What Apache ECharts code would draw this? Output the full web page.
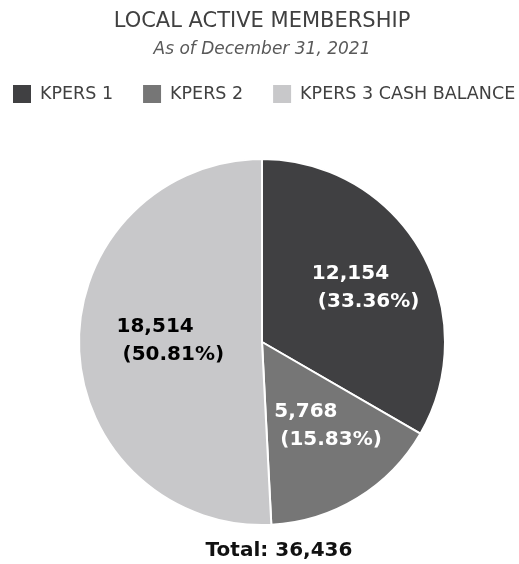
<!DOCTYPE html>
<html>
<head>
<meta charset="utf-8">
<script src="https://cdn.jsdelivr.net/npm/echarts@6/dist/echarts.min.js"></script>
<style>html,body{margin:0;padding:0;background:#fff;}#c{width:519px;height:564px;}</style>
</head>
<body>
<div id="c"></div>
<script>
const categories = ['KPERS 1', 'KPERS 2', 'KPERS 3 CASH BALANCE'];
const values = [12154, 5768, 18514];
const percents = ['33.36%', '15.83%', '50.81%'];
const colors = ['#404042', '#767676', '#c8c8ca'];
const labelColors = ['#ffffff', '#ffffff', '#000000'];
const labelShift = [[28, -7], [23, 3], [9, -4]];
const total = values.reduce((a, b) => a + b, 0);

const font = "'DejaVu Sans'";
const chart = echarts.init(document.getElementById('c'));
chart.setOption({
  animation: false,
  title: [
    { text: 'LOCAL ACTIVE MEMBERSHIP', left: 262, textAlign: 'center', top: 11, padding: 0,
      textStyle: { fontFamily: font, fontSize: 21, fontWeight: 'normal', color: '#404040' } },
    { text: 'As of December 31, 2021', left: 262, textAlign: 'center', top: 41, padding: 0,
      textStyle: { fontFamily: font, fontSize: 17, fontStyle: 'italic', fontWeight: 'normal', color: '#595959' } },
    { text: 'Total: ' + total.toLocaleString('en-US'), left: 279, textAlign: 'center', top: 541, padding: 0,
      textStyle: { fontFamily: font, fontSize: 20, fontWeight: 'bold', color: '#111111' } }
  ],
  legend: {
    data: categories,
    left: 13, top: 85, right: 0,
    padding: 0,
    itemWidth: 18, itemHeight: 18, itemGap: 30,
    icon: 'rect',
    itemStyle: { borderWidth: 0 },
    textStyle: { fontFamily: font, fontSize: 17.5, color: '#404040', padding: [0, 0, 0, 4] }
  },
  series: [{
    type: 'pie',
    center: [262, 342],
    radius: 183,
    startAngle: 90,
    clockwise: true,
    data: categories.map((c, i) => ({
      name: c, value: values[i],
      itemStyle: { color: colors[i] },
      label: { color: labelColors[i] }
    })),
    itemStyle: { borderColor: '#ffffff', borderWidth: 2 },
    label: {
      show: true,
      position: 'inside',
      fontFamily: font, fontSize: 20, fontWeight: 'bold', lineHeight: 28,
      formatter: p => '{a|' + values[p.dataIndex].toLocaleString('en-US') + '}\n{b|(' + percents[p.dataIndex] + ')}',
      rich: {
        a: { width: 120, align: 'left', fontFamily: font, fontSize: 20, fontWeight: 'bold', lineHeight: 28 },
        b: { width: 114, align: 'left', padding: [0, 0, 0, 6], fontFamily: font, fontSize: 20, fontWeight: 'bold', lineHeight: 28 }
      }
    },
    labelLayout: p => ({ dx: labelShift[p.dataIndex][0], dy: labelShift[p.dataIndex][1] }),
    emphasis: { disabled: true }
  }]
});
</script>
</body>
</html>
